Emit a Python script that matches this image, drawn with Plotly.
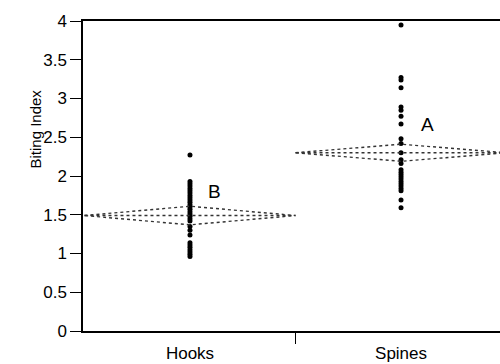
import plotly.graph_objects as go

groups = ["Hooks", "Spines"]
hooks_vals = [2.27, 1.93, 1.90, 1.87, 1.84, 1.81, 1.78, 1.75, 1.72, 1.69, 1.66, 1.63,
              1.60, 1.57, 1.54, 1.51, 1.48, 1.45, 1.42, 1.35, 1.30, 1.24, 1.14, 1.11,
              1.08, 1.05, 1.02, 0.99, 0.96]
spines_vals = [3.95, 3.27, 3.24, 3.14, 2.89, 2.85, 2.77, 2.67, 2.48, 2.42, 2.30, 2.21,
               2.16, 2.08, 2.05, 2.02, 1.99, 1.96, 1.93, 1.90, 1.87, 1.84, 1.81, 1.69,
               1.59]
means = [1.49, 2.30]
ci_half = [0.12, 0.11]
letters = ["B", "A"]
letter_pos = [(0.114, 1.80), (1.127, 2.66)]
yticks = [0, 0.5, 1, 1.5, 2, 2.5, 3, 3.5, 4]

FONT = "Liberation Sans, Arial, sans-serif"
fig = go.Figure()

for i, vals in enumerate([hooks_vals, spines_vals]):
    fig.add_trace(go.Scatter(x=[i] * len(vals), y=vals, mode="markers",
                             marker=dict(color="black", size=5), showlegend=False,
                             hoverinfo="skip", cliponaxis=False))
    m, h = means[i], ci_half[i]
    fig.add_trace(go.Scatter(x=[i - 0.5, i, i + 0.5, i, i - 0.5],
                             y=[m, m + h, m, m - h, m], mode="lines",
                             line=dict(color="#333", width=1.4, dash="dot"),
                             showlegend=False, hoverinfo="skip"))
    fig.add_trace(go.Scatter(x=[i - 0.5, i + 0.5], y=[m, m], mode="lines",
                             line=dict(color="#333", width=1.4, dash="dot"),
                             showlegend=False, hoverinfo="skip"))
    fig.add_annotation(x=letter_pos[i][0], y=letter_pos[i][1], text=letters[i],
                       showarrow=False, font=dict(family=FONT, size=19, color="black"))

fig.update_layout(
    width=500, height=364, margin=dict(l=83, r=0, t=21, b=33),
    paper_bgcolor="white", plot_bgcolor="white",
    font=dict(family=FONT, color="black"),
    xaxis=dict(range=[-0.507, 1.469], tickvals=[0, 1], ticktext=groups, ticks="",
               showgrid=False, zeroline=False, showline=True, linecolor="black",
               linewidth=1.5, mirror=True, tickfont=dict(size=17),
               ticklabelstandoff=6,
               minor=dict(tickvals=[0.5], ticks="outside", ticklen=11, tickcolor="black",
                          tickwidth=1.2, showgrid=False)),
    yaxis=dict(range=[0, 4], tickvals=yticks, ticktext=[f"{v:g}" for v in yticks],
               ticks="outside", ticklen=11, tickwidth=1.2, tickcolor="black",
               showgrid=False, zeroline=False, showline=True, linecolor="black",
               linewidth=1.5, tickfont=dict(size=17)),
)
fig.add_annotation(x=-0.115, y=0.65, xref="paper", yref="paper", xanchor="center",
                   yanchor="middle", text="Biting Index", textangle=-90, showarrow=False,
                   font=dict(family=FONT, size=15, color="black"))

fig.write_html("out.html")
